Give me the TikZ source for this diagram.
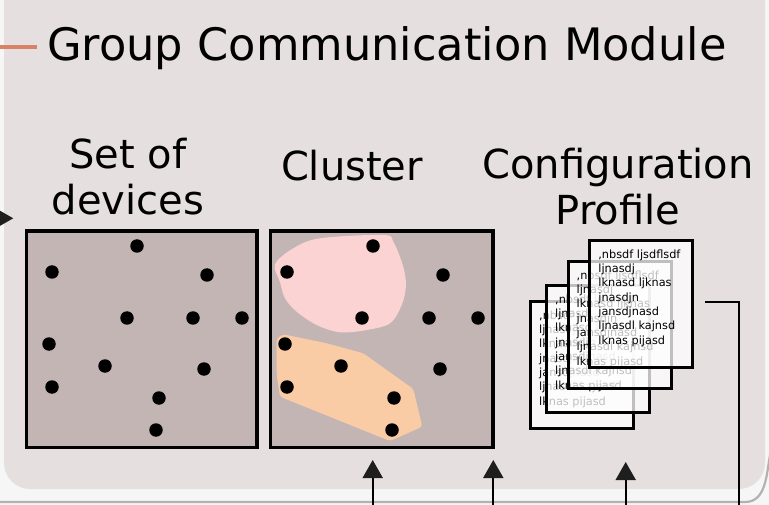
\documentclass[tikz,border=0pt]{standalone}
\usepackage{fontspec}
\setmainfont{DejaVu Sans}
\usetikzlibrary{arrows.meta,calc}
\definecolor{pagebg}{RGB}{246,246,246}
\definecolor{panel}{RGB}{230,223,224}
\definecolor{fieldfill}{RGB}{196,181,181}
\definecolor{pinkzone}{RGB}{251,211,211}
\definecolor{orangezone}{RGB}{250,204,166}
\definecolor{accent}{RGB}{217,130,106}
\definecolor{framegray}{RGB}{178,178,178}
\definecolor{tipgray}{RGB}{30,30,30}
\newcommand{\sheetlines}{,nbsdf ljsdflsdf\\ljnasdj\\lknasd ljknas\\jnasdjn\\jansdjnasd\\ljnasdl kajnsd\\lknas pijasd}

\begin{document}
\begin{tikzpicture}[x=1pt,y=-1pt,
  fieldbox/.style={draw=black, line width=3.5pt, fill=fieldfill, anchor=north west, inner sep=0pt},
  device/.style={circle, fill=black, inner sep=0pt, minimum size=13.5pt},
  heading/.style={font=\fontsize{40}{46.6}\selectfont, align=center, inner sep=0pt, anchor=base},
  sheet/.style={draw=black, line width=3pt, fill=white, fill opacity=0.75,
    minimum width=103pt, minimum height=127pt, anchor=north west, inner sep=0pt},
  sheettext/.style={font=\fontsize{11.3}{14.3}\selectfont, align=left, inner sep=0pt, anchor=base west},
  feed/.style={line width=1.8pt, -{Triangle[length=18pt,width=20pt,color=tipgray]}},
  link/.style={line width=1.6pt}]

\useasboundingbox (0,0) rectangle (769,505);
\fill[pagebg] (0,0) rectangle (769,505);

% module panel and the outer frame line
\fill[panel, rounded corners=26pt] (4,-30) rectangle (765,489);
\coordinate (fl) at (-5,502);
\coordinate (fb) at (745,502);
\coordinate (fr) at (770,455);
\draw[framegray, line width=2.2pt] (fl) -- (fb) to[out=0,in=-100] (fr);

% title
\coordinate (al) at (-5,47);
\coordinate (ar) at (37,47);
\draw[accent, line width=4pt] (al) -- (ar);
\node[font=\fontsize{44.7}{52}\selectfont, inner sep=0pt, anchor=base west] (title) at (47,60.7) {Group Communication Module};

% incoming arrow on the left
\coordinate (lsrc) at (-40,218.3);
\coordinate (ltip) at (13.3,218.3);
\draw[feed] (lsrc) -- (ltip);

% headings (multi-line nodes sit on their last baseline)
\node[heading] (hset) at (128,215) {Set of\\devices};
\node[heading] (hcluster) at (352,181) {Cluster};
\node[heading] (hprofile) at (618,225) {Configuration\\Profile};

% set of devices
\node[fieldbox, minimum width=230.5pt, minimum height=216pt] (devices) at (24.75,229.5) {};
\foreach \n/\p in {1/{(137,246)},2/{(52,272)},3/{(207,275)},4/{(127,318)},5/{(193,318)},6/{(242,318)},
                   7/{(49,344)},8/{(105,366)},9/{(204,369)},10/{(52,387)},11/{(159,398)},12/{(156,430)}}
  \node[device] (d\n) at \p {};

% cluster
\node[fieldbox, minimum width=222.5pt, minimum height=216pt] (cluster) at (268.75,229.5) {};
\fill[pinkzone] plot[smooth cycle, tension=0.55] coordinates {
  (275,264.3) (293.3,248.3) (320,238.3) (383.3,235) (393.3,241.7) (402.7,265) (406,285)
  (401.7,305) (390,323.3) (366.7,330) (340,332.3) (316.7,325) (296.7,311.7) (285,298.3) (280,282)};
\fill[orangezone, rounded corners=3pt] (276.7,338.3) -- (283.3,334.3) -- (326.7,343.3) -- (363.3,353.3)
  -- (413.3,389) -- (422.3,426.7) -- (390,441) -- (280,396.7) -- (276.7,375) -- cycle;
\foreach \n/\p in {1/{(373,246)},2/{(287,272)},3/{(443,275)},4/{(362,318)},5/{(429,318)},6/{(478,318)},
                   7/{(285,344)},8/{(341,366)},9/{(440,369)},10/{(287,387)},11/{(394,398)},12/{(392,430)}}
  \node[device] (c\n) at \p {};

% configuration profile: stacked sheets (text placed on its last baseline)
\node[sheet] (s1) at (528.8,299.8) {};
\node[sheettext] (t1) at (539,405.1) {\sheetlines};
\node[sheet] (s2) at (544.8,283.8) {};
\node[sheettext] (t2) at (555,389.1) {\sheetlines};
\node[sheet] (s3) at (566.5,259.8) {};
\node[sheettext] (t3) at (576.5,365.1) {\sheetlines};
\node[sheet] (s4) at (588.2,238.8) {};
\node[sheettext] (t4) at (598.2,344.1) {\sheetlines};

% outgoing link from the profile
\coordinate (o1) at (705,302);
\coordinate (o2) at (739,302);
\coordinate (o3) at (739,515);
\draw[link] (o1) -- (o2) -- (o3);

% incoming arrows from below
\coordinate (b1) at (372.7,515);
\coordinate (u1) at (372.7,460);
\coordinate (b2) at (493.3,515);
\coordinate (u2) at (493.3,460);
\coordinate (b3) at (625.7,515);
\coordinate (u3) at (625.7,462);
\draw[feed] (b1) -- (u1);
\draw[feed] (b2) -- (u2);
\draw[feed] (b3) -- (u3);
\end{tikzpicture}
\end{document}
